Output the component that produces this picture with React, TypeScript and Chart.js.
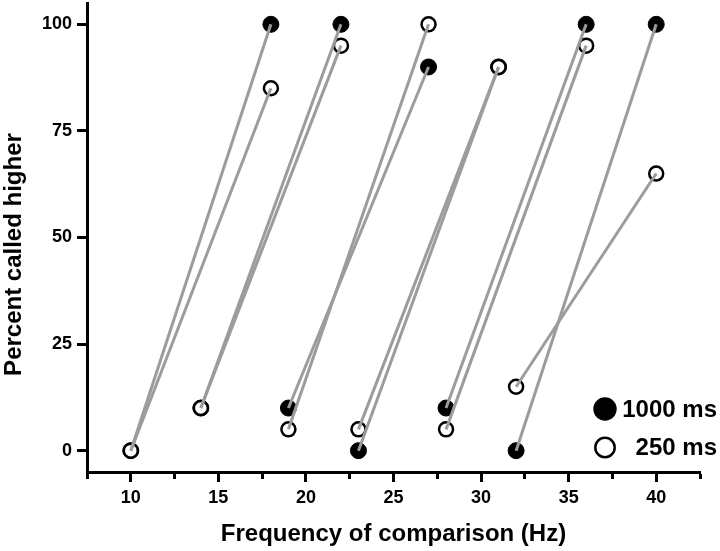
import React, { useEffect, useRef } from "react";
import { Chart, registerables } from "chart.js";

Chart.register(...registerables);

// ---- data ----
const lowFreq = [10, 14, 19, 23, 28, 32];
const highFreq = [18, 22, 27, 31, 36, 40];
const low1000 = [0, 10, 10, 0, 10, 0];
const high1000 = [100, 100, 90, 90, 100, 100];
const low250 = [0, 10, 5, 5, 5, 15];
const high250 = [85, 95, 100, 90, 95, 65];

const xTickValues = [7.5, 10, 12.5, 15, 17.5, 20, 22.5, 25, 27.5, 30, 32.5, 35, 37.5, 40, 42.5];
const xTickLabels = [10, 15, 20, 25, 30, 35, 40];
const yTickValues = [0, 25, 50, 75, 100];
const seriesNames = ["1000 ms", "250 ms"];
const xTitle = "Frequency of comparison (Hz)";
const yTitle = "Percent called higher";

const FONT = '"Liberation Sans", Arial, Helvetica, sans-serif';
const LINE_GREY = "#9c9c9c";

const overlayPlugin = {
  id: "overlay",
  afterDraw(chart: any) {
    const { ctx, chartArea: a } = chart;
    ctx.save();
    ctx.fillStyle = "#000";
    ctx.font = `bold 24px ${FONT}`;
    // y axis title
    ctx.save();
    ctx.translate(14, (a.top + a.bottom) / 2 + 17);
    ctx.rotate(-Math.PI / 2);
    ctx.textAlign = "center";
    ctx.textBaseline = "middle";
    ctx.fillText(yTitle, 0, 0);
    ctx.restore();

    // legend
    const mx = a.right - 95;
    const y1 = a.bottom - 63;
    const y2 = a.bottom - 24.5;
    ctx.beginPath();
    ctx.arc(mx, y1, 11.7, 0, Math.PI * 2);
    ctx.fill();
    ctx.beginPath();
    ctx.arc(mx, y2, 9.7, 0, Math.PI * 2);
    ctx.lineWidth = 2.5;
    ctx.strokeStyle = "#000";
    ctx.stroke();
    ctx.textAlign = "right";
    ctx.textBaseline = "middle";
    ctx.fillText(seriesNames[0], a.right + 17, y1 + 1);
    ctx.fillText(seriesNames[1], a.right + 17, y2 + 1);
    ctx.restore();
  },
};

export default function App() {
  const canvasRef = useRef<HTMLCanvasElement | null>(null);

  useEffect(() => {
    if (!canvasRef.current) return;

    const segments: any[] = [];
    for (let i = 0; i < lowFreq.length; i++) {
      segments.push({
        label: "seg1000-" + i,
        data: [
          { x: lowFreq[i], y: low1000[i] },
          { x: highFreq[i], y: high1000[i] },
        ],
        showLine: true,
        borderColor: LINE_GREY,
        borderWidth: 3,
        pointRadius: 0,
        order: 0,
      });
      segments.push({
        label: "seg250-" + i,
        data: [
          { x: lowFreq[i], y: low250[i] },
          { x: highFreq[i], y: high250[i] },
        ],
        showLine: true,
        borderColor: LINE_GREY,
        borderWidth: 3,
        pointRadius: 0,
        order: 0,
      });
    }

    const pts1000 = [
      ...lowFreq.map((x, i) => ({ x, y: low1000[i] })),
      ...highFreq.map((x, i) => ({ x, y: high1000[i] })),
    ];
    const pts250 = [
      ...lowFreq.map((x, i) => ({ x, y: low250[i] })),
      ...highFreq.map((x, i) => ({ x, y: high250[i] })),
    ];

    const chart = new Chart(canvasRef.current, {
      type: "scatter",
      data: {
        datasets: [
          ...segments,
          {
            label: seriesNames[1],
            data: pts250,
            pointRadius: 7,
            pointBackgroundColor: "#fff",
            pointBorderColor: "#000",
            pointBorderWidth: 2.5,
            showLine: false,
            order: 1,
          },
          {
            label: seriesNames[0],
            data: pts1000,
            pointRadius: 8,
            pointBackgroundColor: "#000",
            pointBorderColor: "#000",
            pointBorderWidth: 1,
            showLine: false,
            order: 2,
          },
        ],
      },
      options: {
        animation: false,
        responsive: false,
        devicePixelRatio: 1,
        layout: { autoPadding: false, padding: { top: 3, right: 20, left: 0, bottom: 0 } },
        plugins: {
          legend: { display: false },
          tooltip: { enabled: false },
        },
        scales: {
          x: {
            type: "linear",
            min: 7.5,
            max: 42.5,
            afterBuildTicks: (scale: any) => {
              scale.ticks = xTickValues.map((v) => ({ value: v }));
            },
            afterFit: (scale: any) => {
              scale.height = 79;
              scale.paddingLeft = 0;
              scale.paddingRight = 0;
            },
            ticks: {
              autoSkip: false,
              maxRotation: 0,
              padding: 5,
              color: "#000",
              font: { family: FONT, size: 18, weight: "bold" },
              callback: (value: any) => (xTickLabels.includes(Number(value)) ? String(value) : ""),
            },
            grid: {
              display: true,
              drawOnChartArea: false,
              drawTicks: true,
              tickLength: 10,
              tickWidth: 3,
              tickColor: "#000",
              tickBorderDash: (ctx: any) =>
                ctx.tick && xTickLabels.includes(ctx.tick.value) ? [] : [5, 100],
            },
            border: { display: true, color: "#000", width: 3 },
            title: {
              display: true,
              text: xTitle,
              color: "#000",
              font: { family: FONT, size: 24, weight: "bold" },
              padding: { top: 0, bottom: 2 },
            },
          },
          y: {
            type: "linear",
            min: -5,
            max: 105,
            afterBuildTicks: (scale: any) => {
              scale.ticks = yTickValues.map((v) => ({ value: v }));
            },
            afterFit: (scale: any) => {
              scale.width = 87;
              scale.paddingTop = 0;
              scale.paddingBottom = 0;
            },
            ticks: {
              autoSkip: false,
              padding: 5,
              color: "#000",
              font: { family: FONT, size: 18, weight: "bold" },
            },
            grid: {
              display: true,
              drawOnChartArea: false,
              drawTicks: true,
              tickLength: 10,
              tickWidth: 3,
              tickColor: "#000",
            },
            border: { display: true, color: "#000", width: 3 },
          },
        },
      },
      plugins: [overlayPlugin],
    });

    return () => chart.destroy();
  }, []);

  return (
    <div style={{ position: "absolute", left: 0, top: 0, width: 720, height: 551, background: "#fff" }}>
      <canvas ref={canvasRef} width={720} height={551} style={{ display: "block" }} />
    </div>
  );
}
